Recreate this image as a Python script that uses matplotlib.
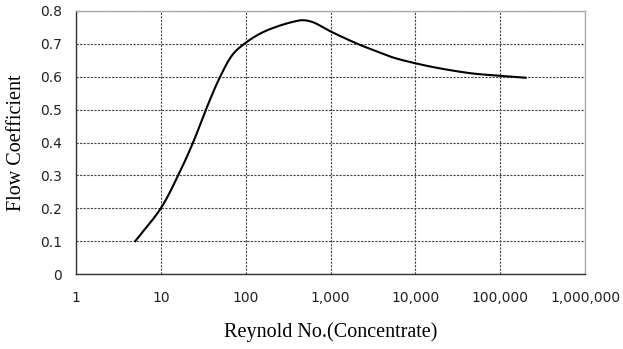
import numpy as np
import matplotlib.pyplot as plt
from matplotlib.ticker import FixedLocator, FuncFormatter

# Reynolds number vs flow coefficient
reynolds = [5, 10, 16, 24, 34, 50, 70, 96, 150, 230, 360, 470, 620,
            1000, 2000, 3200, 5400, 10000, 19000, 47000, 100000, 200000]
flow_coef = [0.10, 0.20, 0.30, 0.40, 0.50, 0.60, 0.667, 0.70, 0.732, 0.752,
             0.767, 0.772, 0.766, 0.738, 0.702, 0.681, 0.659, 0.641, 0.626,
             0.610, 0.603, 0.597]
x_ticks = [1, 10, 100, 1000, 10000, 100000, 1000000]
y_ticks = [0, 0.1, 0.2, 0.3, 0.4, 0.5, 0.6, 0.7, 0.8]


def smooth(xs, ys, yscale=3.87, n=25):
    # centripetal catmull-rom, done in roughly screen-proportional units
    p = np.column_stack([xs, np.asarray(ys) * yscale])
    p = np.vstack([2*p[0] - p[1], p, 2*p[-1] - p[-2]])
    out = []
    for i in range(1, len(p) - 2):
        p0, p1, p2, p3 = p[i-1], p[i], p[i+1], p[i+2]
        t0 = 0.0
        t1 = t0 + np.linalg.norm(p1 - p0) ** 0.5
        t2 = t1 + np.linalg.norm(p2 - p1) ** 0.5
        t3 = t2 + np.linalg.norm(p3 - p2) ** 0.5
        t = np.linspace(t1, t2, n, endpoint=False)[:, None]
        a1 = (t1 - t)/(t1 - t0)*p0 + (t - t0)/(t1 - t0)*p1
        a2 = (t2 - t)/(t2 - t1)*p1 + (t - t1)/(t2 - t1)*p2
        a3 = (t3 - t)/(t3 - t2)*p2 + (t - t2)/(t3 - t2)*p3
        b1 = (t2 - t)/(t2 - t0)*a1 + (t - t0)/(t2 - t0)*a2
        b2 = (t3 - t)/(t3 - t1)*a2 + (t - t1)/(t3 - t1)*a3
        out.append((t2 - t)/(t2 - t1)*b1 + (t - t1)/(t2 - t1)*b2)
    out.append(p[-2][None, :])
    out = np.vstack(out)
    return out[:, 0], out[:, 1] / yscale


fig = plt.figure(figsize=(6.23, 3.49), dpi=100)
ax = fig.add_axes([76/623, 75/349, (585-76)/623, (274-11)/349])

sx, sy = smooth(np.log10(reynolds), flow_coef)
ax.plot(10**sx, sy, color='black', lw=1.5)

ax.set_xscale('log')
ax.set_xlim(1, 1e6)
ax.set_ylim(0, 0.8)
ax.xaxis.set_major_locator(FixedLocator(x_ticks))
ax.xaxis.set_minor_locator(FixedLocator([]))
ax.xaxis.set_major_formatter(FuncFormatter(lambda v, p: f"{int(round(v)):,}"))
ax.set_yticks(y_ticks)
ax.set_yticklabels(['0' if v == 0 else f"{v:.1f}" for v in y_ticks])

ax.grid(True, color='#444444', linestyle=(0, (2, 1.2)), linewidth=0.8)
ax.tick_params(length=0, labelsize=10, colors='#222222', pad=10)
ax.tick_params(axis='x', pad=12)
for lab in ax.get_xticklabels() + ax.get_yticklabels():
    lab.set_family('DejaVu Sans')

for s in ['left', 'bottom']:
    ax.spines[s].set_color('#333333')
    ax.spines[s].set_linewidth(1.0)
for s in ['top', 'right']:
    ax.spines[s].set_color('#aaaaaa')
    ax.spines[s].set_linewidth(1.0)

ax.set_xlabel('Reynold No.(Concentrate)', family='Liberation Serif', fontsize=14.5, labelpad=13)
ax.set_ylabel('Flow Coefficient', family='Liberation Serif', fontsize=14.5, labelpad=10)

fig.savefig('out.png', dpi=100)
